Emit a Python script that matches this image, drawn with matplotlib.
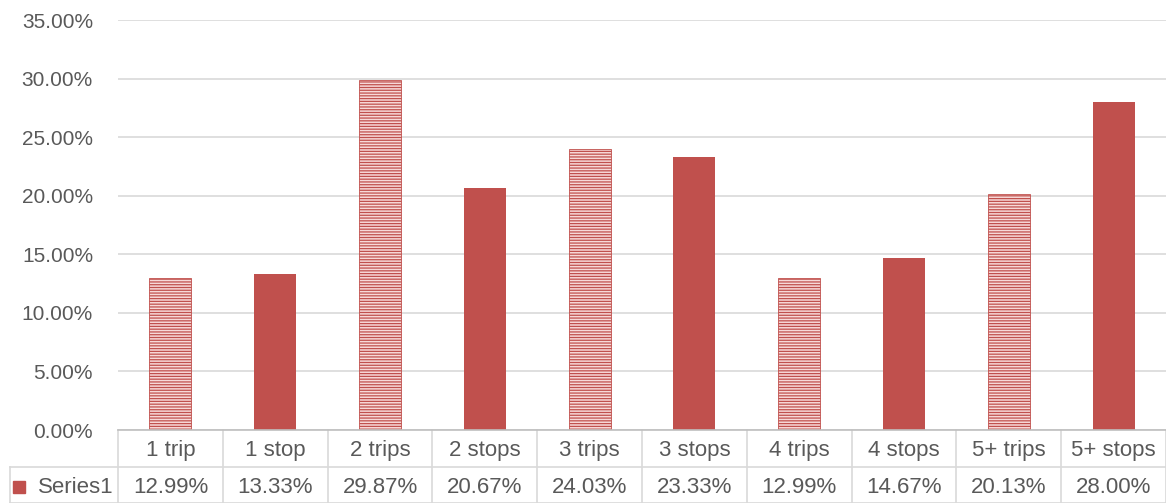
import matplotlib.pyplot as plt
import numpy as np

categories = ["1 trip", "1 stop", "2 trips", "2 stops", "3 trips",
              "3 stops", "4 trips", "4 stops", "5+ trips", "5+ stops"]
values = [12.99, 13.33, 29.87, 20.67, 24.03, 23.33, 12.99, 14.67, 20.13, 28.00]
series_name = "Series1"

red = "#C0504D"
grid = "#D9D9D9"
text_c = "#595959"

plt.rcParams['font.family'] = ['Liberation Sans', 'DejaVu Sans']
plt.rcParams['hatch.linewidth'] = 0.9

W, H = 1166, 503
fig = plt.figure(figsize=(W / 100, H / 100), dpi=100)
ax = fig.add_axes([118 / W, (H - 430) / H, 1048 / W, 410 / H])

x = np.arange(len(categories))
for i, v in enumerate(values):
    if i % 2 == 0:
        # "trips" bars are hatched, "stops" bars solid
        ax.bar(i, v, width=0.4, facecolor="#F7D9D8", edgecolor=red,
               hatch="------", linewidth=0.6, zorder=3)
    else:
        ax.bar(i, v, width=0.4, color=red, zorder=3)

ax.set_xlim(-0.5, len(categories) - 0.5)
ax.set_ylim(0, 35)
ax.set_yticks(np.arange(0, 36, 5))
ax.set_yticklabels([f"{t:.2f}%" for t in np.arange(0, 36, 5)])
ax.yaxis.grid(True, color=grid, linewidth=1.2, zorder=0)
ax.set_xticks([])
ax.tick_params(axis='y', length=0, pad=18, labelsize=15, labelcolor=text_c)
for s in ax.spines.values():
    s.set_visible(False)

# data table under the plot
trans = ax.get_xaxis_transform()
row1 = -37 / 410
row2 = -73 / 410
left = -0.5 - 108 / 104.8
right = len(categories) - 0.5
lk = dict(color=grid, linewidth=1.2, clip_on=False, transform=trans)
ax.plot([-0.5, right], [0, 0], color="#BFBFBF", linewidth=1.2,
        clip_on=False, transform=trans, zorder=4)
ax.plot([left, right], [row1, row1], **lk)
ax.plot([left, right], [row2, row2], **lk)
ax.plot([left, left], [row1, row2], **lk)
for b in np.arange(-0.5, right + 0.01, 1):
    ax.plot([b, b], [0, row2], **lk)

fs = 16
for i, (c, v) in enumerate(zip(categories, values)):
    ax.text(i, row1 / 2 - 0.005, c, transform=trans, ha="center", va="center",
            fontsize=fs, color=text_c)
    ax.text(i, (row1 + row2) / 2 - 0.005, f"{v:.2f}%", transform=trans,
            ha="center", va="center", fontsize=fs, color=text_c)

ax.text(-1.263, (row1 + row2) / 2 - 0.005, series_name, transform=trans,
        ha="left", va="center", fontsize=fs, color=text_c)
ax.add_patch(plt.Rectangle((-1.50, (row1 + row2) / 2 - 0.0195), 0.115, 0.029,
                           transform=trans, color=red, clip_on=False))

fig.savefig("out.png", dpi=100)
